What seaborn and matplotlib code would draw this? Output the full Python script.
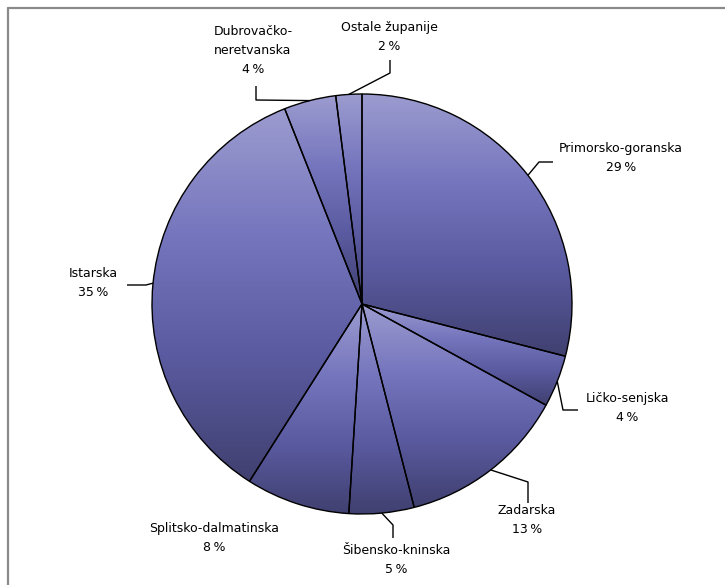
import numpy as np
import matplotlib
matplotlib.use("Agg")
import matplotlib.pyplot as plt
import seaborn as sns

# ---- data ----
regions = ["Primorsko-goranska", "Ličko-senjska", "Zadarska", "Šibensko-kninska",
           "Splitsko-dalmatinska", "Istarska", "Dubrovačko-\nneretvanska", "Ostale županije"]
shares = [29, 4, 13, 5, 8, 35, 4, 2]

# ---- layout (pie units, radius = 1) ----
label_pos = [(1.233, 0.695), (1.262, -0.495), (0.786, -1.029), (0.162, -1.219),
             (-0.705, -1.112), (-1.281, 0.098), (-0.519, 1.205), (0.129, 1.271)]
anchor_angle = [None, None, None, None, None, 174.3, None, None]
elbows = [[(539, 162), (553, 162)], [(563, 410), (578, 410)], [(528, 482), (528, 503)],
          [(393, 525), (393, 538)], None, [(146, 285), (127, 285)],
          [(256, 100), (256, 86)], [(390, 73), (390, 60)]]

W, H, DPI = 725, 585, 100
CX, CY, R = 362, 304, 210.0

sns.set_theme(style="white")
plt.rcParams["font.family"] = ["DejaVu Sans"]

fig = plt.figure(figsize=(W / DPI, H / DPI), dpi=DPI)
ax = fig.add_axes([0, 0, 1, 1])

def px2d(p):
    return ((p[0] - CX) / R, (CY - p[1]) / R)

cmap = sns.blend_palette(["#9C9CD0", "#7676BE", "#5A5AA0", "#404070"], n_colors=256, as_cmap=True)

wedges, _ = ax.pie(shares, startangle=90, counterclock=False, radius=1,
                   wedgeprops=dict(edgecolor="black", linewidth=1.0, facecolor="none"))
grad = np.linspace(0, 1, 256).reshape(-1, 1)
for w in wedges:
    bb = w.get_path().get_extents(w.get_patch_transform())
    im = ax.imshow(grad, cmap=cmap, aspect="auto", origin="upper",
                   extent=(bb.x0, bb.x1, bb.y0, bb.y1), zorder=1, interpolation="bilinear")
    im.set_clip_path(w)
    w.set_zorder(2)

# labels and leader lines
total = sum(shares)
cum = 0
for i, (name, v) in enumerate(zip(regions, shares)):
    a1 = 90 - 360 * cum / total
    a2 = 90 - 360 * (cum + v) / total
    cum += v
    mid = (a1 + a2) / 2 if anchor_angle[i] is None else anchor_angle[i]
    tx, ty = label_pos[i]
    ax.text(tx, ty, f"{name}\n{v}\u2009%", ha="center", va="center", fontsize=9,
            color="black", linespacing=1.6, zorder=5)
    if elbows[i] is not None:
        sx, sy = np.cos(np.radians(mid)), np.sin(np.radians(mid))
        pts = [(sx, sy)] + [px2d(p) for p in elbows[i]]
        xs, ys = zip(*pts)
        ax.plot(xs, ys, color="black", lw=1.0, zorder=4, solid_capstyle="butt")

ax.set_xlim(-CX / R, (W - CX) / R)
ax.set_ylim((CY - H) / R, CY / R)
ax.set_aspect("auto")
ax.axis("off")

# frame lines (top and left of the surrounding box)
fig.add_artist(plt.Line2D([8 / W, 8 / W], [0, 1 - 7.5 / H], transform=fig.transFigure,
                          color="#8a8a8a", lw=1.6))
fig.add_artist(plt.Line2D([8 / W, 1], [1 - 7.5 / H, 1 - 7.5 / H], transform=fig.transFigure,
                          color="#8a8a8a", lw=1.6))

fig.savefig("out.png", dpi=DPI, facecolor="white")
